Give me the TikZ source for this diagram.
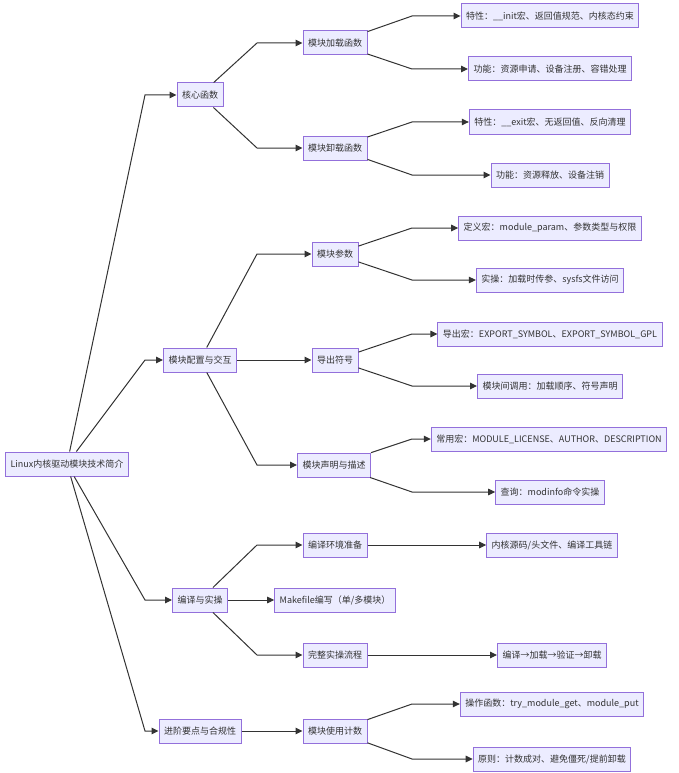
\documentclass[tikz,border=0pt]{standalone}
\usepackage{fontspec}
\setmainfont{Noto Sans CJK SC}
\usetikzlibrary{arrows.meta}
\definecolor{boxfill}{HTML}{ECECFF}
\definecolor{boxline}{HTML}{9370DB}
\definecolor{inkgray}{HTML}{333333}
\tikzset{
  mbox/.style={draw=boxline, fill=boxfill, line width=1pt, text=inkgray,
    inner xsep=5pt, inner ysep=0pt, minimum height=24pt,
    font=\fontsize{9}{11}\selectfont},
  link/.style={draw=inkgray, line width=1pt, -{Triangle[length=7pt,width=6.5pt]}}
}
\begin{document}
\begin{tikzpicture}[x=1pt,y=-1pt]
  \useasboundingbox (0,0) rectangle (679,773);
  \coordinate (r1) at (145,0);
  \coordinate (r2) at (257,0);
  \coordinate (r3) at (412,0);

  \node[mbox] (root) at (67,464) {Linux内核驱动模块技术简介};

  \node[mbox] (core)  at (200,95)  {核心函数};
  \node[mbox] (conf)  at (200,360) {模块配置与交互};
  \node[mbox] (build) at (200,600) {编译与实操};
  \node[mbox] (adv)   at (200,731) {进阶要点与合规性};

  \node[mbox] (load)   at (335,43)  {模块加载函数};
  \node[mbox] (unload) at (335,148) {模块卸载函数};
  \node[mbox] (param)  at (335,254) {模块参数};
  \node[mbox] (export) at (335,360) {导出符号};
  \node[mbox] (decl)   at (334,465) {模块声明与描述};
  \node[mbox] (env)    at (335,545) {编译环境准备};
  \node[mbox] (mkfile) at (335,600) {Makefile编写（单/多模块）};
  \node[mbox] (flow)   at (335,655) {完整实操流程};
  \node[mbox] (refcnt) at (335,731) {模块使用计数};

  \node[mbox] (initfeat)   at (550,16)  {特性：\_\_init宏、返回值规范、内核态约束};
  \node[mbox] (loadfunc)   at (550,69)  {功能：资源申请、设备注册、容错处理};
  \node[mbox] (exitfeat)   at (550,122) {特性：\_\_exit宏、无返回值、反向清理};
  \node[mbox] (unloadfunc) at (550,175) {功能：资源释放、设备注销};
  \node[mbox] (pdef)       at (550,228) {定义宏：module\_param、参数类型与权限};
  \node[mbox] (puse)       at (550,280) {实操：加载时传参、sysfs文件访问};
  \node[mbox] (emacro)     at (550,334) {导出宏：EXPORT\_SYMBOL、EXPORT\_SYMBOL\_GPL};
  \node[mbox] (ecall)      at (550,386) {模块间调用：加载顺序、符号声明};
  \node[mbox] (dmacro)     at (549,439) {常用宏：MODULE\_LICENSE、AUTHOR、DESCRIPTION};
  \node[mbox] (dquery)     at (550,492) {查询：modinfo命令实操};
  \node[mbox] (envitem)    at (552,545) {内核源码/头文件、编译工具链};
  \node[mbox] (flowitem)   at (552,655) {编译→加载→验证→卸载};
  \node[mbox] (rfunc)      at (552,704) {操作函数：try\_module\_get、module\_put};
  \node[mbox] (rrule)      at (552,759) {原则：计数成对、避免僵死/提前卸载};

  \draw[link] (root) -- (r1 |- core) -- (core);
  \draw[link] (root) -- (r1 |- conf) -- (conf);
  \draw[link] (root) -- (r1 |- build) -- (build);
  \draw[link] (root) -- (r1 |- adv) -- (adv);

  \draw[link] (core) -- (r2 |- load) -- (load);
  \draw[link] (core) -- (r2 |- unload) -- (unload);
  \draw[link] (conf) -- (r2 |- param) -- (param);
  \draw[link] (conf) -- (export);
  \draw[link] (conf) -- (r2 |- decl) -- (decl);
  \draw[link] (build) -- (r2 |- env) -- (env);
  \draw[link] (build) -- (mkfile);
  \draw[link] (build) -- (r2 |- flow) -- (flow);
  \draw[link] (adv) -- (refcnt);

  \draw[link] (load) -- (r3 |- initfeat) -- (initfeat);
  \draw[link] (load) -- (r3 |- loadfunc) -- (loadfunc);
  \draw[link] (unload) -- (r3 |- exitfeat) -- (exitfeat);
  \draw[link] (unload) -- (r3 |- unloadfunc) -- (unloadfunc);
  \draw[link] (param) -- (r3 |- pdef) -- (pdef);
  \draw[link] (param) -- (r3 |- puse) -- (puse);
  \draw[link] (export) -- (r3 |- emacro) -- (emacro);
  \draw[link] (export) -- (r3 |- ecall) -- (ecall);
  \draw[link] (decl) -- (r3 |- dmacro) -- (dmacro);
  \draw[link] (decl) -- (r3 |- dquery) -- (dquery);
  \draw[link] (env) -- (envitem);
  \draw[link] (flow) -- (flowitem);
  \draw[link] (refcnt) -- (r3 |- rfunc) -- (rfunc);
  \draw[link] (refcnt) -- (r3 |- rrule) -- (rrule);
\end{tikzpicture}
\end{document}
